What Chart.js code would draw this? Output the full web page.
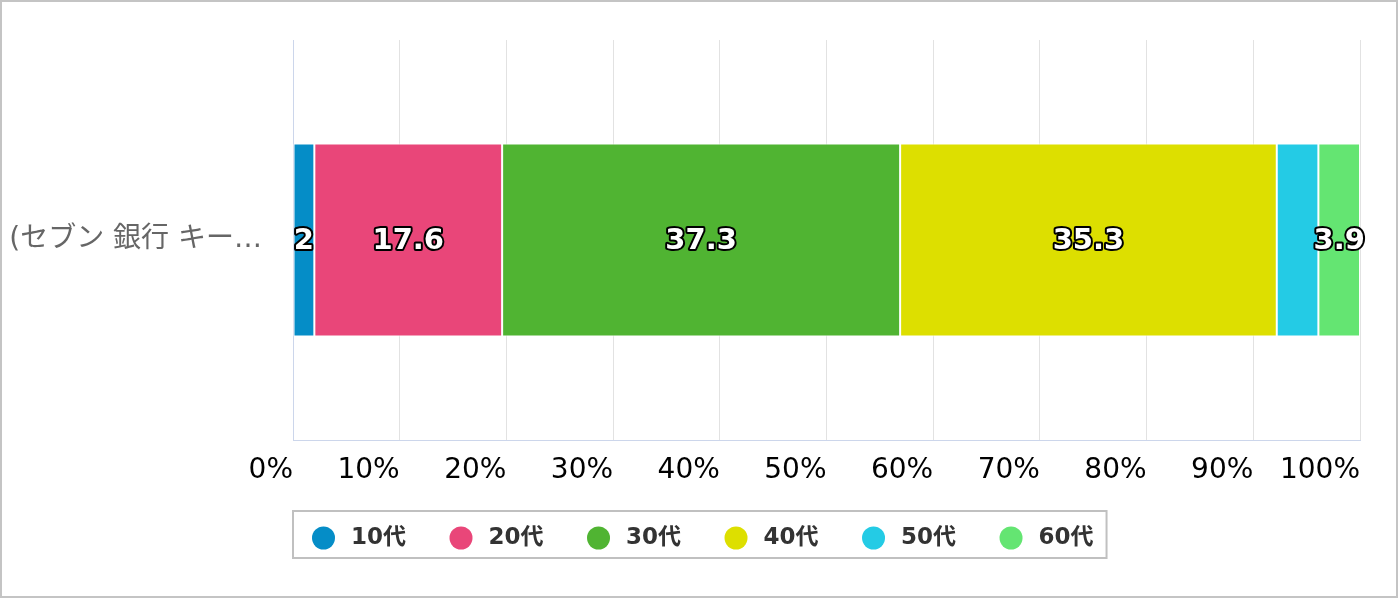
<!DOCTYPE html>
<html>
<head>
<meta charset="utf-8">
<script src="https://cdn.jsdelivr.net/npm/chart.js@4/dist/chart.umd.min.js"></script>
<style>
html, body { margin: 0; padding: 0; background: #fff; }
</style>
</head>
<body>
<canvas id="grafico" width="1400" height="600"></canvas>
<script>
const categorias = ['(セブン 銀行 キー…'];
const series = ['10代', '20代', '30代', '40代', '50代', '60代'];
const valores10 = [2];
const valores20 = [17.6];
const valores30 = [37.3];
const valores40 = [35.3];
const valores50 = [3.9];
const valores60 = [3.9];
const colores = ['#058DC7', '#E94679', '#50B432', '#DDDF00', '#24CBE5', '#64E572'];
const marcasX = ['0%', '10%', '20%', '30%', '40%', '50%', '60%', '70%', '80%', '90%', '100%'];

const fuente = '"DejaVu Sans", "Noto Sans CJK JP", sans-serif';
const todos = [valores10, valores20, valores30, valores40, valores50, valores60];

const dataset = series.map((nombre, i) => ({
    label: nombre,
    data: todos[i],
    backgroundColor: colores[i],
    borderColor: '#ffffff',
    borderWidth: 1,
    borderSkipped: false,
    barPercentage: 1,
    categoryPercentage: 0.4825
}));

// etiquetas de valor con contorno negro
const etiquetas = {
    id: 'etiquetas',
    afterDatasetsDraw(chart) {
        const ctx = chart.ctx;
        const ocupadas = [];
        ctx.save();
        ctx.font = 'bold 29px ' + fuente;
        ctx.textAlign = 'center';
        ctx.textBaseline = 'middle';
        ctx.lineJoin = 'round';
        for (let d = chart.data.datasets.length - 1; d >= 0; d--) {
            const meta = chart.getDatasetMeta(d);
            meta.data.forEach((bar, i) => {
                const txt = String(chart.data.datasets[d].data[i]);
                const cx = (bar.x + bar.base) / 2;
                const w = ctx.measureText(txt).width + 4;
                const caja = { l: cx - w / 2, r: cx + w / 2 };
                if (ocupadas.some(o => caja.l < o.r && caja.r > o.l)) return;
                ocupadas.push(caja);
                ctx.lineWidth = 4;
                ctx.strokeStyle = '#000';
                ctx.strokeText(txt, cx, bar.y + 1);
                ctx.fillStyle = '#fff';
                ctx.fillText(txt, cx, bar.y + 1);
            });
        }
        ctx.restore();
    }
};

// leyenda con marco y borde exterior
const leyenda = {
    id: 'leyenda',
    afterDraw(chart) {
        const ctx = chart.ctx;
        ctx.save();
        ctx.strokeStyle = '#c4c4c4';
        ctx.lineWidth = 2;
        ctx.strokeRect(1, 1, chart.width - 4, chart.height - 4);

        ctx.font = 'bold 23px ' + fuente;
        const anchos = series.map(s => ctx.measureText(s).width);
        const hueco = 43.5;
        const total = 20 + anchos.reduce((a, w) => a + 23 + 16 + w, 0) + hueco * (series.length - 1) + 12;
        const x0 = Math.round(chart.width / 2 - total / 2);
        const top = chart.chartArea.bottom + 71;
        const alto = 47;
        ctx.strokeStyle = '#c0c0c0';
        ctx.strokeRect(x0, top, total, alto);

        let x = x0 + 19;
        const cy = top + 27;
        ctx.textBaseline = 'middle';
        ctx.textAlign = 'left';
        series.forEach((s, i) => {
            ctx.fillStyle = colores[i];
            ctx.beginPath();
            ctx.arc(x + 11.5, cy, 11.5, 0, Math.PI * 2);
            ctx.fill();
            ctx.fillStyle = '#333333';
            ctx.fillText(s, x + 39, cy);
            x += 23 + 16 + anchos[i] + hueco;
        });
        ctx.restore();
    }
};

const config = {
    type: 'bar',
    data: {
        labels: categorias,
        datasets: dataset
    },
    options: {
        indexAxis: 'y',
        responsive: false,
        animation: false,
        layout: {
            padding: { top: 40, right: 40, bottom: 100, left: 0 }
        },
        plugins: {
            legend: { display: false },
            tooltip: { enabled: false }
        },
        scales: {
            x: {
                stacked: true,
                min: 0,
                max: 100,
                ticks: {
                    stepSize: 10,
                    align: 'end',
                    maxRotation: 0,
                    autoSkip: false,
                    padding: 14,
                    color: '#000',
                    font: { size: 28, family: fuente },
                    callback: (v, i) => marcasX[i]
                },
                grid: { color: '#e2e2e2', drawTicks: false },
                border: { color: '#ccd6eb' },
                afterFit: s => { s.height = 60; s.paddingLeft = 0; s.paddingRight = 0; }
            },
            y: {
                stacked: true,
                ticks: {
                    padding: 31,
                    color: '#666666',
                    font: { size: 28, family: fuente }
                },
                grid: { display: false, drawTicks: false },
                border: { color: '#ccd6eb' },
                afterFit: s => { s.width = 293; s.paddingTop = 0; s.paddingBottom = 0; }
            }
        }
    },
    plugins: [etiquetas, leyenda]
};

const grafico = new Chart(document.getElementById('grafico'), config);
</script>
</body>
</html>
